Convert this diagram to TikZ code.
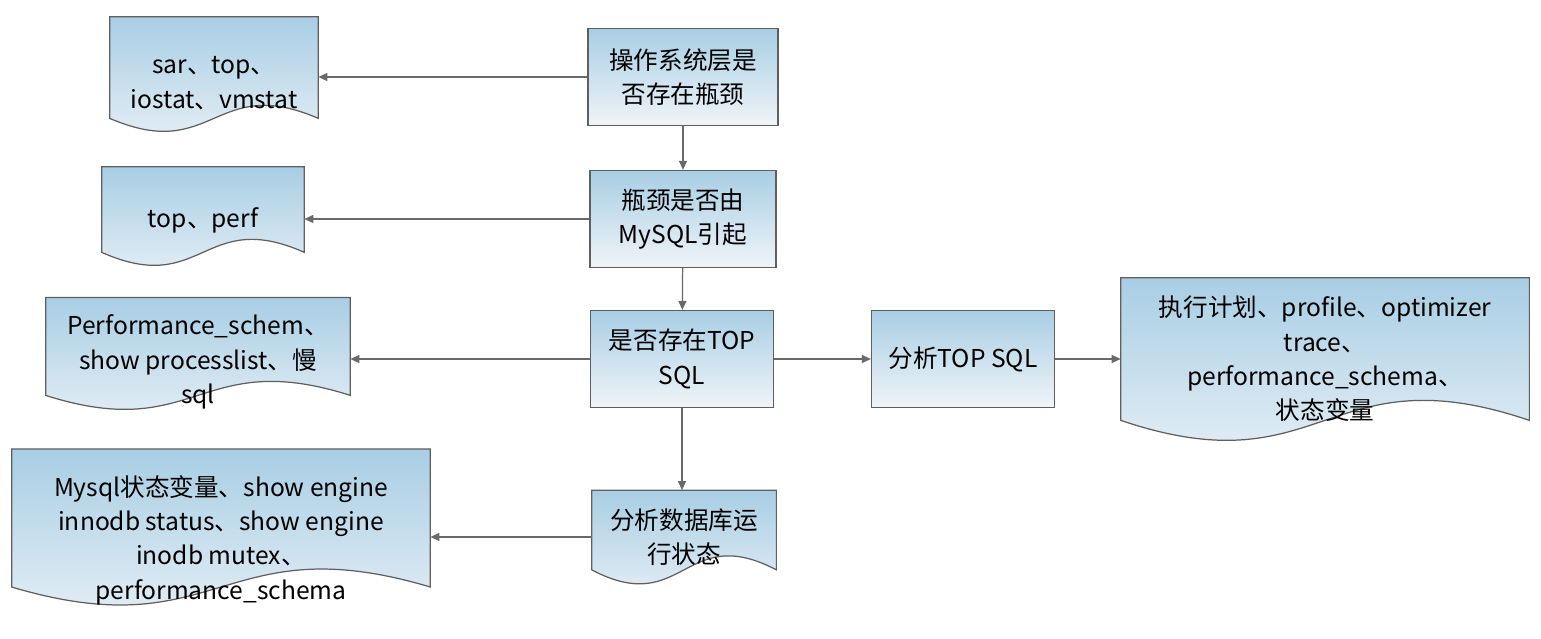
\documentclass[tikz,border=0pt]{standalone}
\usepackage{fontspec}
\setmainfont{Noto Sans CJK SC}
\usepackage{tikz}
\usetikzlibrary{positioning, arrows.meta, calc, backgrounds}
\definecolor{boxtop}{RGB}{168,206,228}
\definecolor{boxbot}{RGB}{240,244,248}
\definecolor{bordergray}{RGB}{95,95,95}
\definecolor{linegray}{RGB}{105,105,105}
\tikzset{
  process/.style={rectangle, minimum height=19.4mm, align=center, draw=bordergray, line width=0.7pt, top color=boxtop, bottom color=boxbot, font=\fontsize{14pt}{19.5pt}\selectfont},
  docbox/.style={rectangle, inner sep=0pt, align=center, font=\fontsize{14pt}{19.5pt}\selectfont},
  docfill/.style={draw=bordergray, line width=0.7pt, top color=boxtop, bottom color=boxbot},
  arrow/.style={draw=linegray, line width=0.7pt, -{Triangle[length=1.8mm,width=1.6mm]}}
}
% wavy document outline behind a docbox node: #1 node, #2 wave amplitude, #3 extra height on top
\newcommand{\docshape}[3]{%
  \path[docfill] let \p1=(#1.north west), \p2=(#1.south east) in
    (\x1,{\y1+#3}) -- (\x1,{\y2+#2})
    .. controls ({(\x1+\x2)/2},{\y2+#2-3.46*#2}) and ({(\x1+\x2)/2},{\y2+#2+3.46*#2}) .. (\x2,{\y2+#2})
    -- (\x2,{\y1+#3}) -- cycle;
}

\begin{document}
\begin{tikzpicture}[x=0.2mm, y=-0.2mm]
  \useasboundingbox (0,0) rectangle (1541,639);

  % main column
  \node (osneck) [process, minimum width=38mm] at (683,77) {操作系统层是\\否存在瓶颈};
  \node (mysqlneck) [process, minimum width=37.2mm] at (683,219) {瓶颈是否由\\MySQL引起};
  \node (topsql) [process, minimum width=36.6mm] at (682,359) {是否存在TOP\\SQL};
  \node (anatop) [process, minimum width=36.6mm] at (963,359) {分析TOP SQL};
  \node (dbstate) [docbox, minimum width=36.8mm, minimum height=18.6mm] at (684,537) {分析数据库运\\行状态};

  % tool documents
  \node (ostools) [docbox, minimum width=41.6mm, minimum height=19.2mm] at (214,83) {sar、top、\\iostat、vmstat};
  \node (cputools) [docbox, minimum width=40.4mm, minimum height=18mm] at (203,220) {top、perf};
  \node (sqltools) [docbox, minimum width=60.8mm, minimum height=18.8mm] at (198,362) {Performance\_schem、\\show processlist、慢\\sql};
  \node (dbtools) [docbox, minimum width=83.6mm, minimum height=23.2mm] at (221,540) {Mysql状态变量、show engine\\innodb status、show engine\\inodb mutex、\\performance\_schema};
  \node (plantools) [docbox, minimum width=81.6mm, minimum height=32.4mm] at (1325,359) {执行计划、profile、optimizer\\trace、\\performance\_schema、\\状态变量};

  \begin{scope}[on background layer]
    \docshape{dbstate}{2.8mm}{0mm}
    \docshape{ostools}{2.6mm}{3.6mm}
    \docshape{cputools}{2.6mm}{1.6mm}
    \docshape{sqltools}{2.8mm}{3.4mm}
    \docshape{dbtools}{3.6mm}{5.2mm}
    \docshape{plantools}{4mm}{0mm}
  \end{scope}

  \draw [arrow] (osneck) -- (mysqlneck);
  \draw [arrow] (mysqlneck) -- (topsql);
  \draw [arrow] (topsql.south) -- (topsql.south |- dbstate.north);
  \draw [arrow] (topsql) -- (anatop);
  \draw [arrow] (anatop) -- (plantools);
  \draw [arrow] (osneck.west) -- (osneck.west -| ostools.east);
  \draw [arrow] (mysqlneck.west) -- (mysqlneck.west -| cputools.east);
  \draw [arrow] (topsql.west) -- (topsql.west -| sqltools.east);
  \draw [arrow] (dbstate.west) -- (dbstate.west -| dbtools.east);
\end{tikzpicture}
\end{document}
